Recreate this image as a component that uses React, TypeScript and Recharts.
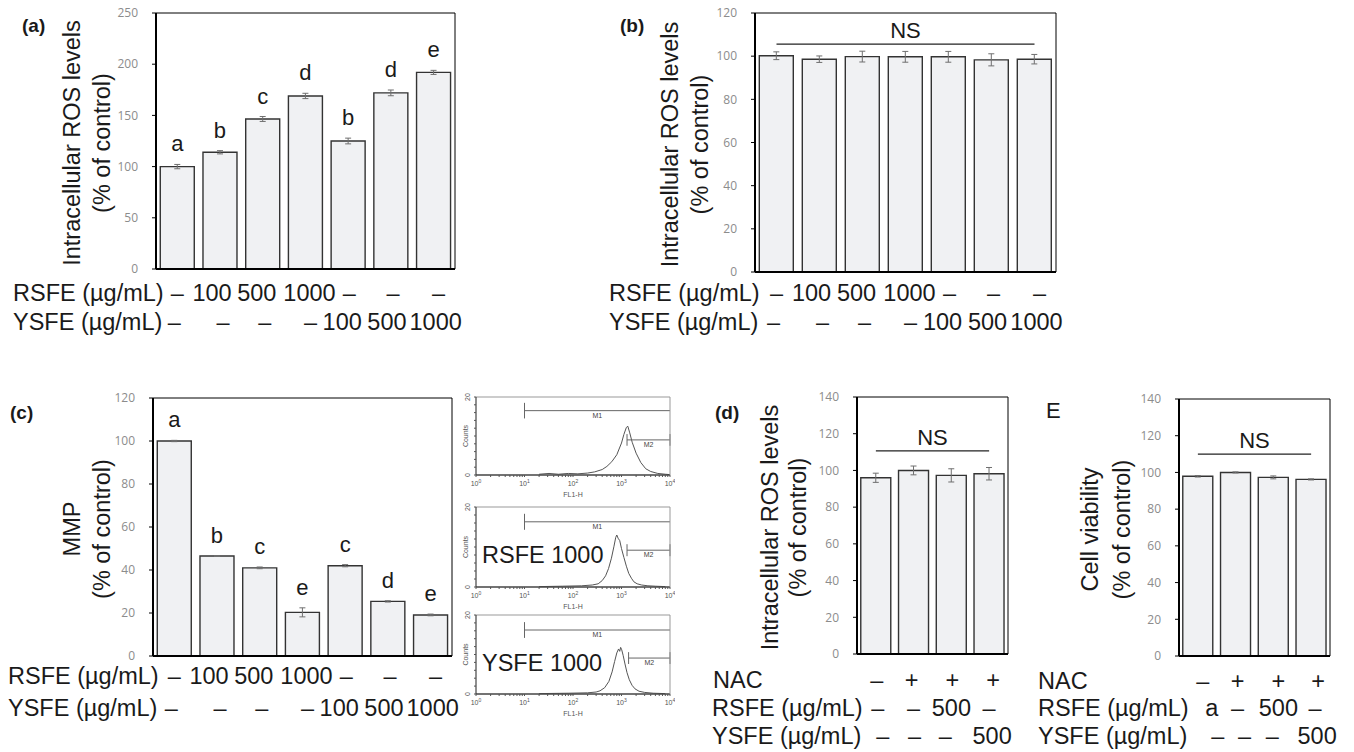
import React from "react";
import {
  BarChart,
  Bar,
  XAxis,
  YAxis,
  ErrorBar,
  LabelList,
  ReferenceLine,
  LineChart,
  Line,
} from "recharts";

const FONT = '"Liberation Sans", Arial, sans-serif';
const TICK_FONT = '"Open Sans", sans-serif';
const INK = "#1a1a1a";
const ROW_SIZE = 23.5;

// (a) intracellular ROS, RSFE / YSFE doses
const rsfeRow = ["–", "100", "500", "1000", "–", "–", "–"];
const ysfeRow = ["–", "–", "–", "–", "100", "500", "1000"];
const rosA = [100, 114, 146.5, 169, 125, 172, 192];
const rosAErr = [2.1, 1.6, 2.4, 2.6, 2.8, 2.8, 2];
const rosALetters = ["a", "b", "c", "d", "b", "d", "e"];

// (b) intracellular ROS, second run
const rosB = [100.2, 98.6, 99.8, 99.7, 99.7, 98.3, 98.6];
const rosBErr = [1.8, 1.5, 2.5, 2.5, 2.5, 2.8, 2.2];
const rosBNs = 105.6;

// (c) MMP
const mmp = [100, 46.5, 41, 20.3, 42, 25.4, 19.1];
const mmpErr = [0.3, 0.2, 0.4, 2.1, 0.5, 0.3, 0.4];
const mmpLetters = ["a", "b", "c", "e", "c", "d", "e"];

// flow cytometry histograms (FL1-H vs counts)
const flowCtrlFl = [20, 32, 50, 80, 126, 200, 280, 400, 500, 630, 800, 1000, 1120, 1260, 1350, 1480, 1660, 2000, 2500, 3160, 4000, 5600, 8000, 10000];
const flowCtrlCounts = [0.2, 0.4, 0.2, 0.4, 0.3, 0.5, 0.8, 1.4, 2.2, 3.4, 5.2, 8.2, 10.4, 12.2, 12.5, 10.8, 8.4, 5.6, 3.2, 1.6, 0.9, 0.4, 0.2, 0.1];
const flowRsfeFl = [20, 60, 150, 250, 330, 400, 470, 540, 620, 700, 760, 800, 850, 920, 1000, 1120, 1260, 1410, 1600, 1800, 2100, 2600, 3500, 5000, 8000];
const flowRsfeCounts = [0.1, 0.2, 0.3, 0.5, 0.8, 1.6, 2.8, 4.6, 7.2, 10.2, 12.4, 13, 12.2, 11.6, 9.6, 7.4, 5.2, 3.4, 2.2, 1.3, 0.8, 0.5, 0.3, 0.2, 0.1];
const flowYsfeFl = [20, 80, 200, 300, 360, 450, 550, 640, 720, 800, 870, 920, 960, 1010, 1080, 1180, 1300, 1450, 1650, 1900, 2300, 3000, 4500, 8000];
const flowYsfeCounts = [0.1, 0.2, 0.3, 0.5, 0.8, 1.6, 3.2, 5.6, 8.2, 10.4, 11.4, 10.8, 11.8, 11.2, 9.8, 7.6, 5.4, 3.6, 2.2, 1.3, 0.7, 0.4, 0.2, 0.1];
const flowM1Level = [16.5, 16.3, 16.2];
const flowM2Level = [9, 9.2, 9.1];
const flowM2Start = [1300, 1300, 1400];

// (d) ROS with NAC, (E) cell viability with NAC
const nacRow = ["–", "+", "+", "+"];
const nacRsfeRow = ["–", "–", "500", "–"];
const nacYsfeRow = ["–", "–", "–", "500"];
const viabRsfeRow = ["a", "–", "500", "–"];
const nacRos = [96, 100, 97.3, 98.2];
const nacRosErr = [2.5, 2.4, 3.6, 3.4];
const nacRosNs = 110.6;
const viability = [97.9, 100, 97.3, 96.2];
const viabilityErr = [0.4, 0.3, 0.8, 0.3];
const viabilityNs = 110;

// small horizontal nudges of the dose text, as typeset in the figure
const doseNudge = [
  [0, -8, -6, 4, 1, 2, 5],
  [-3, 3, 2, 5, -6, -4, 2],
];
const nacNudge = [
  [1, -2, 1, 4],
  [2, 0, 0, 0],
  [7, 1, -6, 3],
];
const viabNudge = [
  [5, 2, 5, 7],
  [14, 2, 5, 4],
  [20, 9, -1, 6],
];

const TOPPAD = 12;
const RIGHTPAD = 32;

interface YLabelProps {
  lines: string[];
  xs: number[];
  cy: number;
}

const YLabel = ({ lines, xs, cy }: YLabelProps) => (
  <g>
    {lines.map((s, i) => (
      <text
        key={i}
        transform={`translate(${xs[i]},${cy}) rotate(-90)`}
        textAnchor="middle"
        dominantBaseline="central"
        fontFamily={FONT}
        fontSize={23.5}
        fill={INK}
      >
        {s}
      </text>
    ))}
  </g>
);

interface BarPanelProps {
  L: number;
  T: number;
  R: number;
  B: number;
  svgLeft: number;
  values: number[];
  errors: number[];
  letters?: string[];
  yMax: number;
  yStep: number;
  yLabel: string[];
  yLabelOffsets: number[];
  rows: string[][];
  rowY: number[];
  nudge: number[][];
  ns?: number;
}

const BarPanel: React.FC<BarPanelProps> = ({
  L, T, R, B, svgLeft, values, errors, letters, yMax, yStep, yLabel, yLabelOffsets, rows, rowY, nudge, ns,
}) => {
  const data = values.map((v, i) => ({ g: `g${i}`, v, e: errors[i] }));
  const yAxisW = L - svgLeft;
  const plotH = B - T;
  const width = yAxisW + (R - L) + 1 + RIGHTPAD;
  const height = TOPPAD + plotH + 100;
  const svgTop = T - TOPPAD;
  const ticks: number[] = [];
  for (let t = 0; t <= yMax; t += yStep) ticks.push(t);

  const renderXTick = (p: any) => (
    <g>
      {rows.map((row, r) => (
        <text
          key={r}
          x={p.x + nudge[r][p.index]}
          y={rowY[r] - svgTop}
          textAnchor="middle"
          dominantBaseline="central"
          fontFamily={FONT}
          fontSize={ROW_SIZE}
          fill={INK}
        >
          {row[p.index]}
        </text>
      ))}
    </g>
  );

  const renderLetter = (p: any) => {
    if (!letters) return null;
    const i = p.index;
    const h = Number(p.height);
    const errPx = (errors[i] * h) / values[i];
    return (
      <text
        x={Number(p.x) + Number(p.width) / 2}
        y={Number(p.y) - errPx - 13}
        textAnchor="middle"
        fontFamily={FONT}
        fontSize={22}
        fill={INK}
      >
        {letters[i]}
      </text>
    );
  };

  return (
    <div style={{ position: "absolute", left: svgLeft, top: svgTop }}>
      <BarChart
        width={width}
        height={height}
        data={data}
        margin={{ top: TOPPAD - 1, right: RIGHTPAD, bottom: 0, left: 0 }}
        barCategoryGap="10%"
      >
        <XAxis
          dataKey="g"
          height={100}
          interval={0}
          tickLine={false}
          axisLine={{ stroke: "#000", strokeWidth: 2 }}
          tick={renderXTick}
        />
        <XAxis
          xAxisId="top"
          dataKey="g"
          orientation="top"
          height={1}
          tick={false}
          tickLine={false}
          axisLine={{ stroke: "#000", strokeWidth: 1 }}
        />
        <YAxis
          width={yAxisW}
          domain={[0, yMax]}
          ticks={ticks}
          interval={0}
          tickSize={4}
          tickMargin={14}
          tickLine={{ stroke: "#000" }}
          axisLine={{ stroke: "#000", strokeWidth: 2 }}
          tick={{ fill: "#8c8c8c", fontSize: 12, fontFamily: TICK_FONT }}
          label={
            <YLabel
              lines={yLabel}
              xs={yLabelOffsets.map((o) => yAxisW - o)}
              cy={TOPPAD + plotH / 2 + 2}
            />
          }
        />
        <YAxis
          yAxisId="right"
          orientation="right"
          width={1}
          tick={false}
          tickLine={false}
          axisLine={{ stroke: "#000", strokeWidth: 1 }}
        />
        <Bar
          dataKey="v"
          fill="#f0f1f3"
          stroke="#333"
          strokeWidth={1.4}
          isAnimationActive={false}
        >
          <ErrorBar dataKey="e" width={3} stroke="#6f6f6f" strokeWidth={1} />
          {letters && <LabelList dataKey="v" content={renderLetter} />}
        </Bar>
        {ns !== undefined && (
          <ReferenceLine
            segment={[
              { x: data[0].g, y: ns },
              { x: data[data.length - 1].g, y: ns },
            ]}
            stroke="#222"
            strokeWidth={1.2}
            label={{
              value: "NS",
              position: "top",
              offset: 6,
              fontSize: 22,
              fill: INK,
              fontFamily: FONT,
            }}
          />
        )}
      </BarChart>
    </div>
  );
};

const flowTicks: number[] = [];
for (let d = 1; d <= 1000; d *= 10) {
  for (let k = 1; k <= 9; k++) flowTicks.push(k * d);
}
flowTicks.push(10000);
const flowYTicks = [0, 2, 4, 6, 8, 10, 12, 14, 16, 18, 20];

const renderFlowXTick = (p: any) => {
  const v = Number(p.payload.value);
  const exp = Math.round(Math.log10(v));
  if (Math.abs(Math.pow(10, exp) - v) > 1e-6) return <g />;
  return (
    <text x={p.x} y={p.y + 7} textAnchor="middle" fontSize={7} fontFamily={FONT} fill="#555">
      10
      <tspan dy={-3} fontSize={5}>
        {exp}
      </tspan>
    </text>
  );
};

const renderFlowYTick = (p: any) => {
  const v = Number(p.payload.value);
  if (v !== 0 && v !== 20) return <g />;
  return (
    <text
      transform={`translate(${p.x - 2},${p.y}) rotate(-90)`}
      textAnchor="middle"
      fontSize={7}
      fontFamily={FONT}
      fill="#555"
    >
      {v}
    </text>
  );
};

const CountsLabel = ({ x, cy }: { x: number; cy: number }) => (
  <text
    transform={`translate(${x},${cy}) rotate(-90)`}
    textAnchor="middle"
    dominantBaseline="central"
    fontSize={7}
    fontFamily={FONT}
    fill="#555"
  >
    Counts
  </text>
);

interface FlowPanelProps {
  T: number;
  B: number;
  fl: number[];
  counts: number[];
  m1: number;
  m2: number;
  m2Start: number;
}

const FlowPanel: React.FC<FlowPanelProps> = ({ T, B, fl, counts, m1, m2, m2Start }) => {
  const data = fl.map((f, i) => ({ fl: f, n: counts[i] }));
  const svgLeft = 455;
  const L = 476;
  const R = 670;
  const pad = 10;
  const width = L - svgLeft + (R - L) + 5;
  const height = pad + (B - T) + 22;
  const mark = { stroke: "#666", strokeWidth: 1 };
  return (
    <div style={{ position: "absolute", left: svgLeft, top: T - pad }}>
      <LineChart
        width={width}
        height={height}
        data={data}
        margin={{ top: pad - 1, right: 4, bottom: 0, left: 0 }}
      >
        <XAxis
          dataKey="fl"
          type="number"
          scale="log"
          domain={[1, 10000]}
          allowDataOverflow
          ticks={flowTicks}
          interval={0}
          height={22}
          tickSize={2}
          tickLine={{ stroke: "#555" }}
          axisLine={{ stroke: "#444", strokeWidth: 1.5 }}
          tick={renderFlowXTick}
          label={{ value: "FL1-H", position: "insideBottom", offset: 0, fontSize: 7, fill: "#555", fontFamily: FONT }}
        />
        <XAxis
          xAxisId="top"
          dataKey="fl"
          type="number"
          scale="log"
          domain={[1, 10000]}
          allowDataOverflow
          orientation="top"
          height={1}
          tick={false}
          tickLine={false}
          axisLine={{ stroke: "#999", strokeWidth: 1 }}
        />
        <YAxis
          domain={[0, 20]}
          ticks={flowYTicks}
          interval={0}
          width={L - svgLeft}
          tickSize={2}
          tickLine={{ stroke: "#555" }}
          axisLine={{ stroke: "#444", strokeWidth: 1.2 }}
          tick={renderFlowYTick}
          label={<CountsLabel x={7} cy={pad + (B - T) / 2} />}
        />
        <YAxis
          yAxisId="right"
          orientation="right"
          width={1}
          tick={false}
          tickLine={false}
          axisLine={{ stroke: "#999", strokeWidth: 1 }}
        />
        <Line
          dataKey="n"
          type="linear"
          stroke="#555"
          strokeWidth={1}
          dot={false}
          isAnimationActive={false}
        />
        <ReferenceLine
          segment={[{ x: 10, y: m1 }, { x: 10000, y: m1 }]}
          {...mark}
          label={{ value: "M1", position: "bottom", offset: 2, fontSize: 7, fill: "#444", fontFamily: FONT }}
        />
        <ReferenceLine segment={[{ x: 10, y: m1 - 2 }, { x: 10, y: m1 + 2 }]} {...mark} />
        <ReferenceLine
          segment={[{ x: m2Start, y: m2 }, { x: 10000, y: m2 }]}
          {...mark}
          label={{ value: "M2", position: "bottom", offset: 2, fontSize: 7, fill: "#444", fontFamily: FONT }}
        />
        <ReferenceLine segment={[{ x: m2Start, y: m2 - 1.5 }, { x: m2Start, y: m2 + 1.5 }]} {...mark} />
        <ReferenceLine segment={[{ x: 10000, y: m2 - 1.5 }, { x: 10000, y: m2 + 1.5 }]} {...mark} />
      </LineChart>
    </div>
  );
};

const Txt = ({ x, y, children, size = ROW_SIZE, bold = false }: any) => (
  <text
    x={x}
    y={y}
    dominantBaseline="central"
    fontFamily={FONT}
    fontSize={size}
    fontWeight={bold ? "bold" : "normal"}
    fill={INK}
  >
    {children}
  </text>
);

const App: React.FC = () => {
  return (
    <div style={{ position: "absolute", left: 0, top: 0, width: 1354, height: 752, background: "#fff" }}>
      <BarPanel
        L={156} T={13} R={455} B={269} svgLeft={0}
        values={rosA} errors={rosAErr} letters={rosALetters}
        yMax={250} yStep={50}
        yLabel={["Intracellular ROS levels", "(% of control)"]}
        yLabelOffsets={[84, 54]}
        rows={[rsfeRow, ysfeRow]} rowY={[293, 322]} nudge={doseNudge}
      />
      <BarPanel
        L={755} T={13} R={1056} B={272} svgLeft={590}
        values={rosB} errors={rosBErr}
        yMax={120} yStep={20}
        yLabel={["Intracellular ROS levels", "(% of control)"]}
        yLabelOffsets={[85, 55]}
        rows={[rsfeRow, ysfeRow]} rowY={[293, 322]} nudge={doseNudge}
        ns={rosBNs}
      />
      <BarPanel
        L={153} T={398} R={452} B={656} svgLeft={0}
        values={mmp} errors={mmpErr} letters={mmpLetters}
        yMax={120} yStep={20}
        yLabel={["MMP", "(% of control)"]}
        yLabelOffsets={[81, 51]}
        rows={[rsfeRow, ysfeRow]} rowY={[676, 708]} nudge={doseNudge}
      />
      <FlowPanel T={397} B={475} fl={flowCtrlFl} counts={flowCtrlCounts} m1={flowM1Level[0]} m2={flowM2Level[0]} m2Start={flowM2Start[0]} />
      <FlowPanel T={507} B={587} fl={flowRsfeFl} counts={flowRsfeCounts} m1={flowM1Level[1]} m2={flowM2Level[1]} m2Start={flowM2Start[1]} />
      <FlowPanel T={615} B={694} fl={flowYsfeFl} counts={flowYsfeCounts} m1={flowM1Level[2]} m2={flowM2Level[2]} m2Start={flowM2Start[2]} />
      <BarPanel
        L={857} T={397} R={1008} B={654} svgLeft={750}
        values={nacRos} errors={nacRosErr}
        yMax={140} yStep={20}
        yLabel={["Intracellular ROS levels", "(% of control)"]}
        yLabelOffsets={[87, 59]}
        rows={[nacRow, nacRsfeRow, nacYsfeRow]} rowY={[680, 708, 736]} nudge={nacNudge}
        ns={nacRosNs}
      />
      <BarPanel
        L={1179} T={399} R={1330} B={656} svgLeft={1070}
        values={viability} errors={viabilityErr}
        yMax={140} yStep={20}
        yLabel={["Cell viability", "(% of control)"]}
        yLabelOffsets={[89, 57]}
        rows={[nacRow, viabRsfeRow, nacYsfeRow]} rowY={[681, 708, 736]} nudge={viabNudge}
        ns={viabilityNs}
      />
      <svg
        width={1354}
        height={752}
        style={{ position: "absolute", left: 0, top: 0, pointerEvents: "none" }}
      >
        <Txt x={22} y={25} size={19} bold>(a)</Txt>
        <Txt x={620} y={25} size={19} bold>(b)</Txt>
        <Txt x={10} y={412} size={19} bold>(c)</Txt>
        <Txt x={715} y={412} size={19} bold>(d)</Txt>
        <Txt x={1046} y={410} size={22}>E</Txt>

        <Txt x={13} y={293}>RSFE (µg/mL)</Txt>
        <Txt x={13} y={322}>YSFE (µg/mL)</Txt>
        <Txt x={609} y={293}>RSFE (µg/mL)</Txt>
        <Txt x={609} y={322}>YSFE (µg/mL)</Txt>
        <Txt x={8} y={676}>RSFE (µg/mL)</Txt>
        <Txt x={8} y={708}>YSFE (µg/mL)</Txt>

        <Txt x={713} y={680}>NAC</Txt>
        <Txt x={712} y={708}>RSFE (µg/mL)</Txt>
        <Txt x={712} y={736}>YSFE (µg/mL)</Txt>
        <Txt x={1038} y={681}>NAC</Txt>
        <Txt x={1038} y={708}>RSFE (µg/mL)</Txt>
        <Txt x={1038} y={736}>YSFE (µg/mL)</Txt>

        <Txt x={482} y={555}>RSFE 1000</Txt>
        <Txt x={482} y={663}>YSFE 1000</Txt>
      </svg>
    </div>
  );
};

export default App;
